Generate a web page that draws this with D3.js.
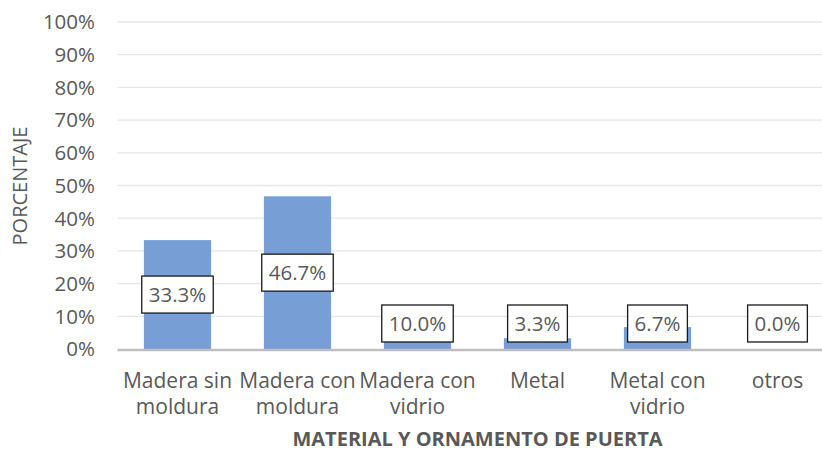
<!DOCTYPE html>
<html>
<head>
<meta charset="utf-8">
<script src="https://cdn.jsdelivr.net/npm/d3@7"></script>
<style>
  body { margin: 0; background: #fff; overflow: hidden; }
  text { font-family: "Open Sans", Lato, sans-serif; fill: #595959; }
</style>
</head>
<body>
<div id="chart"></div>
<script>
// chart data
var categories = [
  ["Madera sin", "moldura"],
  ["Madera con", "moldura"],
  ["Madera con", "vidrio"],
  ["Metal"],
  ["Metal con", "vidrio"],
  ["otros"]
];
var values = [0.333, 0.467, 0.10, 0.033, 0.067, 0.0];
var labels = ["33.3%", "46.7%", "10.0%", "3.3%", "6.7%", "0.0%"];
var yTicks = [0, 0.1, 0.2, 0.3, 0.4, 0.5, 0.6, 0.7, 0.8, 0.9, 1.0];

var width = 822, height = 452;
// plot area runs past the right edge of the picture (cropped in the original)
var plot = { left: 117.5, right: 837.5, top: 22, bottom: 349 };

var svg = d3.select("#chart").append("svg")
  .attr("width", width)
  .attr("height", height);

var x = d3.scaleBand()
  .domain(d3.range(categories.length))
  .range([plot.left, plot.right])
  .paddingInner(0.44)
  .paddingOuter(0.22);

var y = d3.scaleLinear()
  .domain([0, 1])
  .range([plot.bottom, plot.top]);

// gridlines
svg.append("g")
  .selectAll("line")
  .data(yTicks.slice(1))
  .enter().append("line")
  .attr("x1", plot.left)
  .attr("x2", plot.right)
  .attr("y1", d => y(d))
  .attr("y2", d => y(d))
  .attr("stroke", "#e6e6e6")
  .attr("stroke-width", 1.3);

// y tick labels
svg.append("g")
  .selectAll("text")
  .data(yTicks)
  .enter().append("text")
  .attr("x", 95)
  .attr("y", d => y(d))
  .attr("dy", "0.36em")
  .attr("text-anchor", "end")
  .style("font-size", "20.5px")
  .text(d => d3.format(".0%")(d));

// bars
svg.append("g")
  .selectAll("rect")
  .data(values)
  .enter().append("rect")
  .attr("x", (d, i) => x(i))
  .attr("width", x.bandwidth())
  .attr("y", d => y(d))
  .attr("height", d => y(0) - y(d))
  .attr("fill", "#789ed6");

// baseline
svg.append("line")
  .attr("x1", plot.left)
  .attr("x2", plot.right)
  .attr("y1", y(0) + 1)
  .attr("y2", y(0) + 1)
  .attr("stroke", "#bfbfbf")
  .attr("stroke-width", 2.5);

// data labels in boxes, kept above the baseline for short bars
var boxH = 37;
var lab = svg.append("g")
  .selectAll("g")
  .data(values)
  .enter().append("g")
  .attr("transform", function (d, i) {
    var cx = x(i) + x.bandwidth() / 2;
    var cy = Math.min((y(d) + y(0)) / 2, y(0) - boxH / 2 - 7);
    return "translate(" + cx + "," + cy + ")";
  });

var labRect = lab.append("rect")
  .attr("y", -boxH / 2)
  .attr("height", boxH)
  .attr("fill", "#fff")
  .attr("stroke", "#1a1a1a")
  .attr("stroke-width", 1.3);

lab.append("text")
  .attr("text-anchor", "middle")
  .attr("dy", "0.36em")
  .style("font-size", "20.5px")
  .text((d, i) => labels[i]);

labRect.each(function () {
  var w = this.parentNode.querySelector("text").getComputedTextLength() + 14;
  d3.select(this).attr("x", -w / 2).attr("width", w);
});

// category labels
var cat = svg.append("g")
  .selectAll("text")
  .data(categories)
  .enter().append("text")
  .attr("text-anchor", "middle")
  .attr("x", (d, i) => x(i) + x.bandwidth() / 2)
  .attr("y", 388)
  .style("font-size", "21px");

cat.selectAll("tspan")
  .data(d => d)
  .enter().append("tspan")
  .attr("x", function () { return this.parentNode.getAttribute("x"); })
  .attr("dy", (d, i) => i === 0 ? 0 : 26)
  .text(d => d);

// axis titles
svg.append("text")
  .attr("x", (plot.left + plot.right) / 2)
  .attr("y", 446)
  .attr("text-anchor", "middle")
  .style("font-size", "20px")
  .style("font-weight", "bold")
  .text("MATERIAL Y ORNAMENTO DE PUERTA");

svg.append("text")
  .attr("transform", "translate(27,186) rotate(-90)")
  .attr("text-anchor", "middle")
  .style("font-size", "20px")
  .text("PORCENTAJE");
</script>
</body>
</html>
